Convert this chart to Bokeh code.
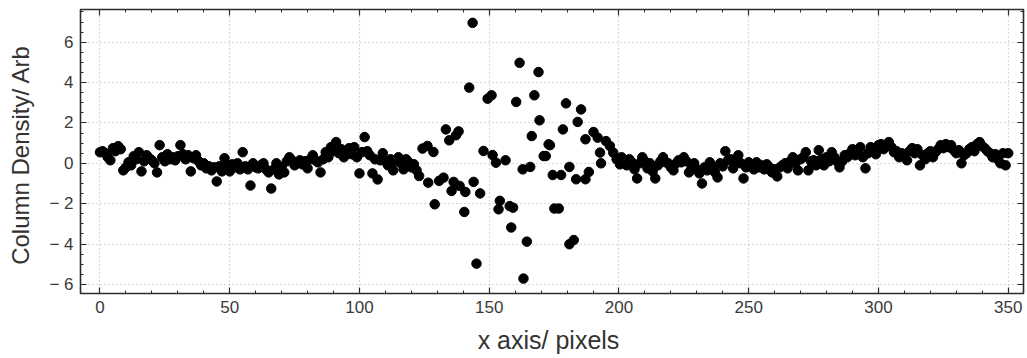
from bokeh.plotting import figure
from bokeh.models import LinearAxis, SingleIntervalTicker, Range1d
from bokeh.embed import file_html
from bokeh.resources import INLINE

# flat band left of the disturbance (x = 0 .. 122)
band_left_y = [
    0.55, 0.6, 0.5, 0.3, 0.15, 0.75, 0.6, 0.85, 0.7, -0.35,
    -0.2, 0.05, -0.1, 0.35, 0.2, 0.55, -0.4, 0.1, 0.4, 0.25,
    0.15, 0.0, -0.45, 0.9, 0.3, 0.1, 0.45, 0.2, 0.3, 0.15,
    0.35, 0.9, 0.45, 0.2, 0.4, -0.4, 0.25, 0.4, 0.1, -0.1,
    0.0, -0.25, -0.15, -0.35, -0.2, -0.9, -0.15, -0.4, 0.25, -0.1,
    -0.4, -0.05, -0.2, 0.0, -0.3, 0.55, -0.15, -0.3, -1.1, 0.0,
    -0.2, -0.25, -0.1, 0.0, -0.3, -0.45, -1.25, -0.3, 0.0, -0.55,
    -0.2, -0.45, 0.1, 0.3, 0.15, -0.1, 0.0, 0.15, -0.05, 0.1,
    -0.25, 0.2, 0.4, 0.15, 0.05, -0.45, 0.2, 0.55, 0.3, 0.8,
    0.6, 1.05, 0.5, 0.7, 0.3, 0.55, 0.75, 0.45, 0.8, 0.3,
    -0.5, 0.55, 1.3, 0.6, 0.4, -0.5, 0.2, -0.8, 0.15, 0.5,
    0.1, -0.1, 0.2, -0.35, 0.1, 0.3, 0.0, -0.3, 0.2, 0.05,
    -0.2, -0.05, -0.35,
]
band_left_start = 0

# scattered disturbance region
center_x = [
    123, 124.3, 126.2, 126.5, 128.5, 129, 130.7, 132.4, 133.3, 134.6,
    135.5, 136.3, 137.2, 138.2, 138.6, 140.4, 140.8, 142.3, 143.6, 144,
    145.1, 146.5, 147.8, 149.4, 150.9, 151.3, 152.6, 153.6, 154.1, 156.3,
    157.9, 158.5, 159.2, 160.4, 161.7, 162.9, 163.2, 164.5, 165.8, 166.4,
    167.4, 169.0, 169.4, 171.0, 171.8, 172.9, 173.4, 174.5, 175.1, 176.8,
    177.7, 178.4, 179.6, 180.9, 180.9, 182.6, 183.5, 184.1, 185.4, 187.1,
    187.1, 188.4, 190.2, 191.8, 192.7, 193.1, 195.0, 196.5, 197.8, 199.1,
    200.4,
]
center_y = [
    -0.63, 0.73, 0.86, -0.96, 0.56, -2.03, -0.87, -0.71, 1.68, 1.14,
    -1.37, -0.92, 1.39, 1.58, -1.12, -2.41, -1.42, 3.75, 6.96, -0.92,
    -4.97, -1.49, 0.61, 3.2, 3.37, 0.41, 0.03, -2.28, -1.86, 0.15,
    -2.12, -3.18, -2.2, 3.04, 4.98, -0.3, -5.71, -3.88, -0.18, 1.35,
    3.37, 4.52, 2.13, 0.36, 0.36, 0.94, 0.9, -0.58, -2.24, -2.24,
    -0.58, 1.68, 2.97, -0.18, -4.01, -3.8, -0.79, 2.05, 2.67, -0.79,
    1.19, -0.43, 1.55, 1.27, 0.53, 0.0, 1.1, 0.86, 0.53, 0.2,
    -0.05,
]

# flat band right of the disturbance (x = 201 .. 350)
band_right_y = [
    0.3, 0.1, -0.1, 0.2, 0.05, -0.3, -0.75, 0.0, 0.3, 0.1,
    -0.25, 0.0, -0.4, -0.75, -0.1, 0.1, 0.3, 0.05, 0.0, -0.2,
    -0.35, 0.0, 0.15, 0.05, 0.3, 0.1, -0.45, -0.2, 0.0, -0.3,
    -0.5, -1.0, -0.2, -0.35, 0.05, -0.2, -0.45, -0.7, 0.0, -0.15,
    0.6, 0.15, 0.2, -0.25, 0.1, 0.4, 0.0, -0.75, -0.2, 0.05,
    -0.1, -0.3, 0.05, -0.2, -0.1, -0.3, -0.05, -0.2, -0.45, -0.3,
    -0.65, -0.2, -0.1, 0.0, -0.25, 0.1, 0.3, 0.0, -0.35, 0.2,
    0.3, 0.55, -0.35, 0.1, 0.15, -0.1, 0.65, 0.2, -0.1, 0.3,
    0.1, 0.55, 0.3, 0.1, -0.2, 0.1, 0.4, 0.3, 0.5, 0.7,
    0.4, 0.6, 0.8, 0.3, -0.25, 0.5, 0.8, 0.6, 0.45, 0.9,
    0.95, 0.7, 0.85, 1.05, 0.8, 0.55, 0.6, 0.3, 0.5, 0.35,
    0.15, 0.6, 0.75, 0.5, 0.7, -0.1, 0.4, 0.2, 0.5, 0.6,
    0.3, 0.55, 0.7, 0.9, 0.75, 0.95, 0.8, 0.9, 0.65, 0.5,
    0.65, 0.0, 0.4, 0.5, 0.7, 0.8, 0.6, 0.95, 1.05, 0.85,
    0.75, 0.6, 0.5, 0.3, 0.45, 0.2, 0.0, 0.5, -0.1, 0.5,
]
band_right_start = 201

y_ticks = [-6, -4, -2, 0, 2, 4, 6]
y_tick_labels = ["\u2212 6", "\u2212 4", "\u2212 2", "0", "2", "4", "6"]
x_label = "x  axis/ pixels"
y_label = "Column  Density/ Arb"

x = (list(range(band_left_start, band_left_start + len(band_left_y)))
     + center_x
     + list(range(band_right_start, band_right_start + len(band_right_y))))
y = band_left_y + center_y + band_right_y

FONT = "Liberation Sans"
FRAME = "#2b2b2b"
TXT = "#3a3a3a"

p = figure(width=1027, height=358, output_backend="svg", toolbar_location=None,
           x_range=Range1d(-7.5, 355.9), y_range=Range1d(-6.45, 7.62),
           min_border_left=80, min_border_right=4, min_border_top=9,
           min_border_bottom=65)
p.background_fill_color = "white"
p.border_fill_color = "white"
p.outline_line_color = FRAME
p.outline_line_width = 1.6

p.scatter(x, y, size=9.5, color="black")

xt = SingleIntervalTicker(interval=50, num_minor_ticks=5)
yt = SingleIntervalTicker(interval=2, num_minor_ticks=4)


def style(ax, ticker, labels=True):
    ax.ticker = ticker
    ax.axis_line_color = None
    ax.major_tick_in = 6
    ax.major_tick_out = 0
    ax.minor_tick_in = 3
    ax.minor_tick_out = 0
    ax.major_tick_line_color = FRAME
    ax.minor_tick_line_color = FRAME
    ax.major_tick_line_width = 1.2
    ax.minor_tick_line_width = 1.0
    ax.major_label_text_font = FONT
    ax.major_label_text_font_size = "17px"
    ax.major_label_text_color = TXT
    ax.axis_label_text_font = FONT
    ax.axis_label_text_font_style = "normal"
    ax.axis_label_text_color = "#333333"
    if not labels:
        ax.major_label_text_color = None
        ax.major_label_standoff = 0


bx = p.xaxis[0]
style(bx, xt)
bx.axis_label = x_label
bx.axis_label_text_font_size = "25px"
bx.major_label_standoff = 7
bx.axis_label_standoff = 10

ly = p.yaxis[0]
style(ly, yt)
ly.axis_label = y_label
ly.axis_label_text_font_size = "24px"
ly.major_label_standoff = 7
ly.axis_label_standoff = 12
ly.major_label_overrides = {t: s for t, s in zip(y_ticks, y_tick_labels)}

top = LinearAxis()
style(top, SingleIntervalTicker(interval=50, num_minor_ticks=5), labels=False)
p.add_layout(top, "above")

right = LinearAxis()
style(right, SingleIntervalTicker(interval=2, num_minor_ticks=4), labels=False)
p.add_layout(right, "right")

p.xgrid.ticker = xt
p.ygrid.ticker = yt
for g in (p.xgrid, p.ygrid):
    g.grid_line_color = "#b5b5b5"
    g.grid_line_dash = "1 3"
    g.grid_line_width = 1.2

open("out.html", "w").write(file_html(p, INLINE))
